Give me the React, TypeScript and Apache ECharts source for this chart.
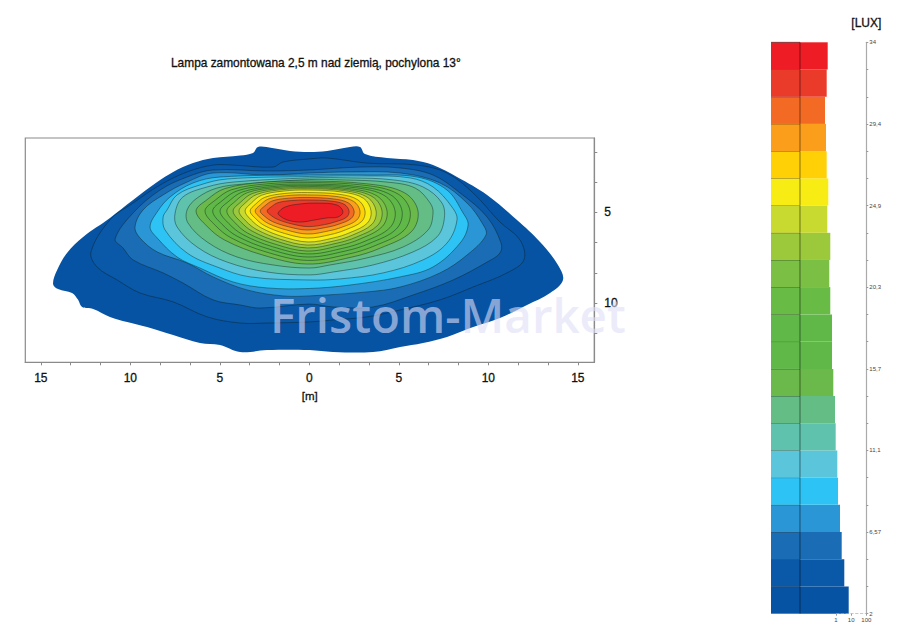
import React, { useEffect, useRef } from "react";
import * as echarts from "echarts";

const titleText = "Lampa zamontowana 2,5 m nad ziemią, pochylona 13°";
const watermarkText = "Fristom-Market";

// illuminance bands, lowest first
const bandColors = ["#0753a3", "#0a58a8", "#1a6cb4", "#2a96d6", "#2dc3f4", "#5bc5dc", "#5fc2ad", "#64bd85", "#6bb94a", "#5fb848", "#5fb848", "#68bb45", "#7bbf45", "#9cc93b", "#c8d92f", "#f7ec13", "#ffd005", "#fb9e1c", "#f26a24", "#ea3a2a", "#ee1c25"];
const bandLowLux = [2, 3.52, 5.05, 6.57, 8.1, 9.62, 11.14, 12.67, 14.19, 15.71, 17.24, 18.76, 20.29, 21.81, 23.33, 24.86, 26.38, 27.9, 29.43, 30.95, 32.48];
const bandHighLux = [3.52, 5.05, 6.57, 8.1, 9.62, 11.14, 12.67, 14.19, 15.71, 17.24, 18.76, 20.29, 21.81, 23.33, 24.86, 26.38, 27.9, 29.43, 30.95, 32.48, 34];
// share of surface per band (log scale), lowest first
const bandShare = [6.89, 3.53, 2.38, 1.84, 1.36, 1.22, 0.955, 0.859, 0.664, 0.544, 0.544, 0.42, 0.361, 0.42, 0.267, 0.31, 0.243, 0.219, 0.188, 0.243, 0.283];
const legendSplit = 0.0042;
const legendStart = 0.0000513;

const luxTickValues = [2, 6.57, 11.14, 15.71, 20.29, 24.86, 29.43, 34];
const luxTickLabels = ["2", "6,57", "11,1", "15,7", "20,3", "24,9", "29,4", "34"];
const shareTicks = [1, 10, 100];

const xLabels = [-15, -10, -5, 0, 5, 10, 15];
const xMinorTicks = [-15, -13.333, -11.667, -10, -8.333, -6.667, -5, -3.333, -1.667, 0, 1.667, 3.333, 5, 6.667, 8.333, 10, 11.667, 13.333, 15];
const yLabels = [5, 10];
const yMinorTicks = [1.667, 3.333, 5, 6.667, 8.333, 10, 11.667];

// contours in metres [x, y], outermost first
const contour0 = [[0,1.66],[-1.08,1.6],[-2.08,1.44],[-2.87,1.38],[-3.15,1.71],[-3.87,1.85],[-5.38,1.99],[-6.5,2.27],[-7.61,2.76],[-8.5,3.32],[-9.85,4.31],[-11.14,5.3],[-12.64,6.35],[-13.54,7.24],[-14.09,8.18],[-14.32,8.95],[-14.04,9.23],[-13.26,9.45],[-12.92,9.83],[-12.7,10.22],[-12.08,10.33],[-11.14,10.77],[-10.18,11.05],[-9.07,11.33],[-7.61,11.77],[-6.11,12.21],[-4.99,12.32],[-3.87,12.71],[-2.36,12.6],[0,12.6],[1.32,12.71],[3.56,12.71],[5.07,12.43],[6.35,12.21],[7.69,11.88],[9.15,11.33],[10.65,10.83],[12.16,10.11],[13.45,9.45],[14.17,8.73],[13.89,7.9],[12.89,6.63],[11.6,5.41],[9.93,4.03],[8.25,3.04],[6.91,2.38],[5.79,2.1],[4.34,1.99],[3.11,1.77],[2.83,1.38],[2.27,1.38],[0.99,1.6]];
const contour1 = [[0,2.04],[-1.47,2.21],[-2.03,2.49],[-4.26,2.38],[-5.38,2.38],[-6.83,2.76],[-8.34,3.48],[-9.85,4.48],[-11.14,5.41],[-12.2,7.18],[-11.86,8.01],[-10.74,8.73],[-9.46,9.45],[-7.61,9.94],[-5.71,10.77],[-3.87,11.11],[-2.36,11.11],[0,11.05],[1.32,10.94],[3.22,10.77],[5.07,10.39],[7.3,9.83],[9.15,9.12],[11.04,8.34],[11.99,7.62],[11.77,6.52],[10.65,5.53],[9.15,3.92],[7.69,2.82],[6.02,2.38],[3.22,2.27],[0.99,1.99]];
const contour2 = [[0,2.65],[-2.36,2.71],[-5.38,2.65],[-6.83,3.04],[-8.34,3.76],[-9.85,5.03],[-10.85,6.46],[-10.41,6.96],[-9.85,7.62],[-8.17,8.34],[-7.06,8.9],[-5.38,9.83],[-3.87,10.11],[-2.75,10.28],[0,10.06],[1.32,10.22],[3.56,10.22],[5.79,9.56],[8.03,8.73],[9.93,7.74],[10.65,7.24],[10.71,6.69],[9.93,5.25],[8.42,3.92],[6.91,2.93],[5.07,2.54],[2.83,2.49]];
const contour3 = [[0,2.82],[-2.36,2.93],[-5.38,2.82],[-6.83,3.32],[-8.17,4.03],[-9.29,4.86],[-9.74,5.8],[-9.46,6.41],[-8.5,7.18],[-6.83,7.79],[-5.38,8.56],[-3.48,9.28],[-1.47,9.61],[0,9.61],[3.22,9.39],[5.07,9.12],[7.3,8.34],[8.81,7.35],[9.87,6.24],[9.65,5.58],[8.81,4.48],[7.3,3.37],[5.07,2.82],[2.27,2.76]];
const contour4 = [[0,2.93],[-4.99,3.04],[-6.5,3.37],[-7.78,4.14],[-8.5,4.97],[-8.9,5.8],[-8.5,6.41],[-7.39,7.46],[-6.11,8.07],[-4.26,8.84],[-2.36,9.17],[0,9.2],[2.27,9.01],[5.07,8.56],[6.91,8.01],[8.42,6.69],[8.87,5.69],[8.59,5.03],[7.69,3.76],[6.02,3.04],[3.22,2.93]];
const contour5 = [[0,3.01],[-4.6,3.15],[-6.11,3.48],[-7.39,4.03],[-7.95,4.86],[-8.17,5.25],[-8.06,5.97],[-6.83,7.24],[-5.16,8.01],[-3.31,8.56],[0,8.73],[1.72,8.67],[4.12,8.34],[6.35,7.62],[7.69,6.69],[8.25,5.41],[7.97,4.7],[6.91,3.59],[5.63,3.09],[3.22,2.98]];
const contour6 = [[0,3.09],[-4.26,3.32],[-5.71,3.59],[-7.06,4.14],[-7.5,5.03],[-7.39,5.8],[-6.27,6.91],[-4.6,7.74],[-2.36,8.29],[0,8.45],[1.32,8.29],[3.56,7.9],[5.79,7.18],[7.13,6.35],[7.53,5.41],[7.41,4.48],[6.35,3.59],[4.68,3.2],[2.27,3.09]];
const contour7 = [[0,3.18],[-3.7,3.43],[-5.16,3.65],[-6.27,4.2],[-6.83,4.86],[-6.78,5.58],[-5.71,6.63],[-4.04,7.46],[-2.03,7.9],[0,8.07],[1.16,7.9],[3.22,7.51],[5.23,6.91],[6.63,5.97],[6.91,5.03],[6.75,4.48],[5.91,3.65],[4.34,3.32],[1.88,3.2]];
const contour8 = [[-0.13,3.26],[-2.61,3.34],[-4.72,3.68],[-5.71,4.29],[-6.33,4.92],[-5.71,5.77],[-4.72,6.53],[-2.61,7.35],[-0.13,7.85],[2.35,7.47],[3.96,6.97],[5.7,6.06],[6.07,4.92],[5.33,3.92],[3.34,3.43]];
const contour9 = [[-0.1,3.34],[-2.39,3.42],[-4.34,3.74],[-5.26,4.32],[-5.83,4.92],[-5.26,5.71],[-4.34,6.42],[-2.39,7.19],[-0.1,7.65],[2.19,7.3],[3.68,6.83],[5.29,5.98],[5.63,4.92],[4.94,3.97],[3.11,3.5]];
const contour10 = [[-0.11,3.43],[-2.23,3.5],[-4.02,3.8],[-4.87,4.35],[-5.4,4.92],[-4.87,5.66],[-4.02,6.32],[-2.23,7.03],[-0.11,7.46],[2.01,7.13],[3.38,6.7],[4.86,5.91],[5.18,4.92],[4.55,4.03],[2.85,3.58]];
const contour11 = [[-0.1,3.5],[-2.06,3.57],[-3.72,3.86],[-4.5,4.38],[-4.99,4.92],[-4.5,5.61],[-3.72,6.22],[-2.06,6.89],[-0.1,7.29],[1.86,6.98],[3.13,6.58],[4.5,5.84],[4.79,4.92],[4.2,4.07],[2.64,3.64]];
const contour12 = [[-0.14,3.56],[-1.92,3.63],[-3.45,3.9],[-4.16,4.4],[-4.61,4.92],[-4.16,5.56],[-3.45,6.14],[-1.92,6.75],[-0.14,7.13],[1.65,6.84],[2.82,6.47],[4.07,5.78],[4.34,4.92],[3.8,4.1],[2.37,3.7]];
const contour13 = [[-0.1,3.63],[-1.76,3.69],[-3.18,3.95],[-3.84,4.43],[-4.26,4.92],[-3.84,5.51],[-3.18,6.04],[-1.76,6.61],[-0.1,6.96],[1.56,6.69],[2.65,6.35],[3.81,5.72],[4.06,4.92],[3.56,4.15],[2.23,3.76]];
const contour14 = [[-0.1,3.69],[-1.63,3.75],[-2.93,4],[-3.55,4.45],[-3.93,4.92],[-3.55,5.47],[-2.93,5.95],[-1.63,6.48],[-0.1,6.8],[1.43,6.56],[2.43,6.24],[3.5,5.65],[3.73,4.92],[3.27,4.18],[2.04,3.81]];
const contour15 = [[-0.07,3.76],[-1.48,3.82],[-2.67,4.05],[-3.24,4.48],[-3.59,4.92],[-3.24,5.42],[-2.67,5.86],[-1.48,6.34],[-0.07,6.63],[1.34,6.41],[2.25,6.12],[3.24,5.59],[3.45,4.92],[3.03,4.22],[1.9,3.88]];
const contour16 = [[-0.1,3.9],[-1.38,3.95],[-2.48,4.16],[-2.99,4.53],[-3.31,4.92],[-2.99,5.35],[-2.48,5.74],[-1.38,6.16],[-0.1,6.41],[1.18,6.22],[2.02,5.96],[2.92,5.5],[3.11,4.92],[2.72,4.31],[1.7,4]];
const contour17 = [[-0.1,4.03],[-1.27,4.07],[-2.27,4.25],[-2.74,4.58],[-3.03,4.92],[-2.74,5.29],[-2.27,5.62],[-1.27,5.97],[-0.1,6.19],[1.07,6.02],[1.83,5.81],[2.65,5.42],[2.83,4.92],[2.48,4.39],[1.54,4.12]];
const contour18 = [[-0.13,4.17],[-1.17,4.21],[-2.07,4.36],[-2.49,4.64],[-2.75,4.92],[-2.49,5.22],[-2.07,5.5],[-1.17,5.79],[-0.13,5.97],[0.92,5.83],[1.61,5.66],[2.34,5.33],[2.5,4.92],[2.18,4.47],[1.34,4.25]];
const contour19 = [[-0.07,4.31],[-0.99,4.34],[-1.76,4.46],[-2.13,4.69],[-2.36,4.92],[-2.13,5.17],[-1.76,5.39],[-0.99,5.63],[-0.07,5.78],[0.85,5.67],[1.44,5.52],[2.08,5.26],[2.22,4.92],[1.95,4.55],[1.21,4.37]];
const contour20 = [[-1.75,5.03],[-1.36,4.7],[-0.52,4.53],[0.43,4.48],[1.55,4.59],[1.88,4.97],[1.6,5.25],[0.99,5.3],[0.32,5.41],[-0.52,5.53],[-1.25,5.41],[-1.64,5.19]];

const contours = [contour0, contour1, contour2, contour3, contour4, contour5, contour6, contour7, contour8, contour9, contour10, contour11, contour12, contour13, contour14, contour15, contour16, contour17, contour18, contour19, contour20];

const labelFont = "'Liberation Sans', Arial, sans-serif";
const heavy = { textBorderColor: "#111", textBorderWidth: 0.3 };

export default function App() {
  const ref = useRef<HTMLDivElement>(null);
  useEffect(() => {
    const chart = echarts.init(ref.current!, undefined, { renderer: "svg" });
    chart.setOption({
      animation: false,
      backgroundColor: "#ffffff",
      textStyle: { fontFamily: labelFont },
      title: {
        text: titleText,
        left: 166,
        top: 52,
        textStyle: { fontSize: 11.9, fontWeight: "normal", color: "#111", fontFamily: labelFont, ...heavy },
      },
      graphic: [
        {
          type: "text",
          z: 100,
          silent: true,
          left: 270,
          top: 290,
          style: {
            text: watermarkText,
            fill: "rgba(222,222,247,0.6)",
            font: "600 47.5px 'Open Sans', sans-serif",
          },
        },
      ],
      grid: [
        { left: 25.3, right: 304.7, top: 138, bottom: 271.7, show: true, borderColor: "#8a8a8a", borderWidth: 1.2, backgroundColor: "#fff" },
        { left: 771, right: 32.7, top: 42.3, bottom: 20.3 },
      ],
      xAxis: [
        {
          gridIndex: 0,
          type: "value",
          min: -15.87,
          max: 15.92,
          name: "[m]",
          nameLocation: "middle",
          nameGap: 28,
          nameTextStyle: { fontSize: 11.5, color: "#111", ...heavy },
          splitLine: { show: false },
          axisLine: { show: true, onZero: false, lineStyle: { color: "#8a8a8a", width: 1.2 } },
          axisTick: { show: true, length: 3, lineStyle: { color: "#8a8a8a" }, customValues: xMinorTicks },
          axisLabel: {
            margin: 10,
            fontSize: 12,
            color: "#111",
            ...heavy,
            customValues: xLabels,
            formatter: (v: number) => String(Math.abs(Math.round(v))),
          },
        },
        {
          gridIndex: 1,
          type: "log",
          min: legendStart,
          max: 100,
          splitLine: { show: false },
          axisLine: { show: false },
          axisTick: { show: true, length: 2, lineStyle: { color: "#999" }, customValues: shareTicks },
          axisLabel: { margin: 3, fontSize: 6, color: "#444", customValues: shareTicks, formatter: (v: number) => String(Math.round(v)) },
        },
      ],
      yAxis: [
        {
          gridIndex: 0,
          type: "value",
          inverse: true,
          position: "right",
          min: 0.884,
          max: 13.28,
          splitLine: { show: false },
          axisLine: { show: true, onZero: false, lineStyle: { color: "#8a8a8a", width: 1.2 } },
          axisTick: { show: true, length: 3, lineStyle: { color: "#8a8a8a" }, customValues: yMinorTicks },
          axisLabel: { margin: 10, fontSize: 12, color: "#111", ...heavy, customValues: yLabels, formatter: (v: number) => String(Math.round(v)) },
        },
        {
          gridIndex: 1,
          type: "value",
          position: "right",
          min: 2,
          max: 34,
          name: "[LUX]",
          nameLocation: "end",
          nameGap: 13,
          nameTextStyle: { fontSize: 12, color: "#111", align: "center", ...heavy },
          splitLine: { show: false },
          axisLine: { show: true, onZero: false, lineStyle: { color: "#aaaaaa", width: 1.2 } },
          axisTick: { show: true, length: 2, lineStyle: { color: "#999" }, customValues: [...bandLowLux, 34] },
          axisLabel: {
            margin: 3,
            fontSize: 6,
            color: "#444",
            customValues: luxTickValues,
            formatter: (v: number) => luxTickLabels[luxTickValues.indexOf(v)] ?? String(v),
          },
        },
      ],
      series: [
        {
          type: "custom",
          name: "contours",
          xAxisIndex: 0,
          yAxisIndex: 0,
          silent: true,
          data: contours.map((_, i) => [i]),
          encode: { x: [], y: [] },
          renderItem: (_p: any, api: any) => {
            const i = api.value(0) as number;
            return {
              type: "polygon",
              shape: { points: contours[i].map((pt) => api.coord(pt)), smooth: 0.36, smoothConstraint: false },
              style: {
                fill: bandColors[i],
                stroke: i === 0 ? "none" : "rgba(10,30,30,0.62)",
                lineWidth: 0.7,
              },
            };
          },
        },
        {
          type: "custom",
          name: "legend",
          xAxisIndex: 1,
          yAxisIndex: 1,
          silent: true,
          data: bandColors.map((_, i) => [bandShare[i], bandLowLux[i], bandHighLux[i], i]),
          renderItem: (_p: any, api: any) => {
            const i = api.value(3) as number;
            const [x0, yBottom] = api.coord([legendStart, bandLowLux[i]]);
            const [x1, yTop] = api.coord([legendSplit, bandHighLux[i]]);
            const [x2] = api.coord([bandShare[i], bandLowLux[i]]);
            const h = yBottom - yTop;
            return {
              type: "group",
              children: [
                { type: "rect", shape: { x: x0, y: yTop, width: x1 - x0, height: h }, style: { fill: bandColors[i] } },
                { type: "rect", shape: { x: x1, y: yTop, width: x2 - x1, height: h }, style: { fill: bandColors[i] } },
                { type: "line", shape: { x1: x0, y1: yTop, x2: x1, y2: yTop }, style: { stroke: "rgba(0,0,0,0.6)", lineWidth: 0.8 } },
                { type: "line", shape: { x1, y1: yTop, x2: x1, y2: yBottom }, style: { stroke: "rgba(0,0,0,0.6)", lineWidth: 0.8 } },
              ],
            };
          },
        },
        {
          type: "line",
          name: "share baseline",
          xAxisIndex: 1,
          yAxisIndex: 1,
          silent: true,
          symbol: "none",
          data: [[1, 2], [100, 2]],
          lineStyle: { color: "#aaaaaa", width: 0.8, type: "dashed" },
        },
      ],
    });
    return () => chart.dispose();
  }, []);
  return <div ref={ref} style={{ position: "fixed", left: 0, top: 0, width: 899, height: 634 }} />;
}
